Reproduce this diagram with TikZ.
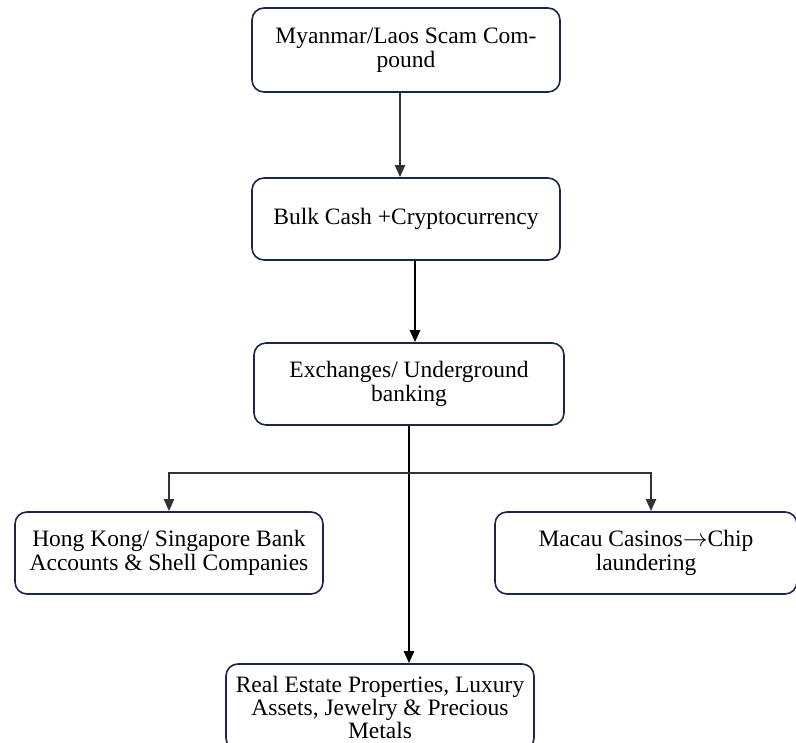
\documentclass[tikz,border=0pt]{standalone}
\usepackage{fontspec}
\setmainfont{Liberation Serif}
\usepackage{tikz}
\usetikzlibrary{arrows.meta,positioning}
\tikzset{>={Triangle[width=10pt,length=12pt]}}
\definecolor{boxnavy}{HTML}{1B2550}
\definecolor{linegray}{HTML}{333333}
\tikzset{
  flowbox/.style={draw=boxnavy, line width=1.6pt, rounded corners=12pt, align=center,
    inner sep=0pt, font=\fontsize{23.5}{24.5}\selectfont},
  thinflow/.style={->, draw=linegray, line width=2pt},
  thickflow/.style={->, draw=black, line width=2.6pt},
}

\begin{document}
\begin{tikzpicture}[x=1pt,y=1pt]

  \useasboundingbox (0,0) rectangle (796,743);

  % boxes
  \node[flowbox, minimum width=308pt, minimum height=84pt] (compound) at (406, 693) {Myanmar/Laos Scam Com-\\pound};
  \node[flowbox, minimum width=308pt, minimum height=82pt] (cash) at (406, 524) {Bulk Cash +Cryptocurrency};
  \node[flowbox, minimum width=310pt, minimum height=82pt] (exch) at (409, 359) {Exchanges/ Underground\\banking};
  \node[flowbox, minimum width=308pt, minimum height=82pt] (banks) at (169, 190) {Hong Kong/ Singapore Bank\\Accounts \& Shell Companies};
  \node[flowbox, minimum width=302pt, minimum height=82pt] (casino) at (646, 190) {Macau Casinos$\rightarrow$Chip\\laundering};
  \node[flowbox, minimum width=308pt, minimum height=86pt, font=\fontsize{23.5}{23}\selectfont] (assets) at (380, 36) {Real Estate Properties, Luxury\\Assets, Jewelry \& Precious\\Metals};

  % arrows
  \draw[thinflow] ([xshift=-6pt]compound.south) -- ([xshift=-6pt]compound.south |- cash.north); %% compound->cash
  \draw[thickflow] ([xshift=9pt]cash.south) -- ([xshift=9pt]cash.south |- exch.north); %% cash->exch

  \coordinate (split) at ([yshift=-47pt]exch.south);
  \draw[thickflow] (exch.south) -- (exch.south |- assets.north); %% exch->assets
  \draw[thinflow] (split) -| (banks.north); %% exch->banks
  \draw[thinflow] (split) -| ([xshift=5pt]casino.north); %% exch->casino

\end{tikzpicture}
\end{document}
